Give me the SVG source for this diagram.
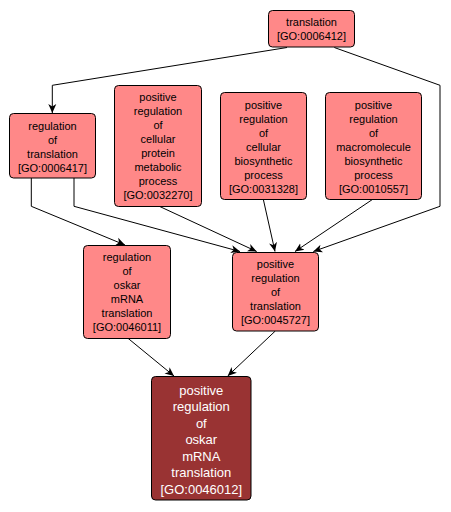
<svg xmlns="http://www.w3.org/2000/svg" width="451" height="512" viewBox="0 0 451 512">
<defs>
<marker id="arr" markerWidth="10" markerHeight="10" refX="9" refY="5" orient="auto" markerUnits="userSpaceOnUse">
<path d="M0,1 L9,5 L0,9 L2.5,5 z" fill="#000"/>
</marker>
<style>
.n rect{fill:#FF8888;stroke:#000;stroke-width:1}
.n text{font-family:"Liberation Sans",Arial,sans-serif;font-size:11px;fill:#000;text-anchor:middle}
.d rect{fill:#993333;stroke:#000;stroke-width:1}
.d text{font-family:"Liberation Sans",Arial,sans-serif;font-size:13px;fill:#fff;text-anchor:middle}
.e path{fill:none;stroke:#000;stroke-width:1;marker-end:url(#arr)}
</style>
</defs>
<rect width="451" height="512" fill="#fff"/>
<g id="edges" class="e">
<path d="M287,47.5 L52.3,85.3 L52.3,113"/>
<path d="M334.3,47.5 L440,85.3 L440,206.3 L313.3,251.5"/>
<path d="M31.3,178 L31.3,206.3 L125,245"/>
<path d="M74,178 L74,206.3 L240,251.5"/>
<path d="M159.3,206.3 L256.7,251.5"/>
<path d="M263.3,199.3 L275,251.5"/>
<path d="M372.7,199.3 L295,251.5"/>
<path d="M128,338.3 L174,376"/>
<path d="M275.3,331 L227.7,376"/>
</g>
<g id="GO0006412" class="n">
<rect x="268.5" y="10.5" width="86" height="36.5" rx="4"/>
<text x="311.5" y="26">translation</text>
<text x="311.5" y="40">[GO:0006412]</text>
</g>
<g id="GO0006417" class="n">
<rect x="9.5" y="113.5" width="86" height="64.5" rx="4"/>
<text x="52.5" y="130">regulation</text>
<text x="52.5" y="144">of</text>
<text x="52.5" y="158">translation</text>
<text x="52.5" y="172">[GO:0006417]</text>
</g>
<g id="GO0032270" class="n">
<rect x="114.5" y="85.5" width="87" height="121" rx="4"/>
<text x="158" y="101">positive</text>
<text x="158" y="115">regulation</text>
<text x="158" y="129">of</text>
<text x="158" y="143">cellular</text>
<text x="158" y="157">protein</text>
<text x="158" y="171">metabolic</text>
<text x="158" y="185">process</text>
<text x="158" y="199">[GO:0032270]</text>
</g>
<g id="GO0031328" class="n">
<rect x="220.5" y="92.5" width="86" height="107" rx="4"/>
<text x="263.5" y="109">positive</text>
<text x="263.5" y="123">regulation</text>
<text x="263.5" y="137">of</text>
<text x="263.5" y="151">cellular</text>
<text x="263.5" y="165">biosynthetic</text>
<text x="263.5" y="179">process</text>
<text x="263.5" y="193">[GO:0031328]</text>
</g>
<g id="GO0010557" class="n">
<rect x="325.5" y="92.5" width="96" height="107" rx="4"/>
<text x="373.5" y="109">positive</text>
<text x="373.5" y="123">regulation</text>
<text x="373.5" y="137">of</text>
<text x="373.5" y="151">macromolecule</text>
<text x="373.5" y="165">biosynthetic</text>
<text x="373.5" y="179">process</text>
<text x="373.5" y="193">[GO:0010557]</text>
</g>
<g id="GO0046011" class="n">
<rect x="83.5" y="245.5" width="87" height="93" rx="4"/>
<text x="127" y="261">regulation</text>
<text x="127" y="275">of</text>
<text x="127" y="289">oskar</text>
<text x="127" y="303">mRNA</text>
<text x="127" y="317">translation</text>
<text x="127" y="331">[GO:0046011]</text>
</g>
<g id="GO0045727" class="n">
<rect x="232.5" y="252.5" width="86" height="78.5" rx="4"/>
<text x="275.5" y="268">positive</text>
<text x="275.5" y="282">regulation</text>
<text x="275.5" y="296">of</text>
<text x="275.5" y="310">translation</text>
<text x="275.5" y="324">[GO:0045727]</text>
</g>
<g id="GO0046012" class="d">
<rect x="151.5" y="376.5" width="99.5" height="123.5" rx="4"/>
<text x="201.3" y="394.5">positive</text>
<text x="201.3" y="411">regulation</text>
<text x="201.3" y="427.5">of</text>
<text x="201.3" y="444">oskar</text>
<text x="201.3" y="460.5">mRNA</text>
<text x="201.3" y="477">translation</text>
<text x="201.3" y="493.5">[GO:0046012]</text>
</g>
</svg>
